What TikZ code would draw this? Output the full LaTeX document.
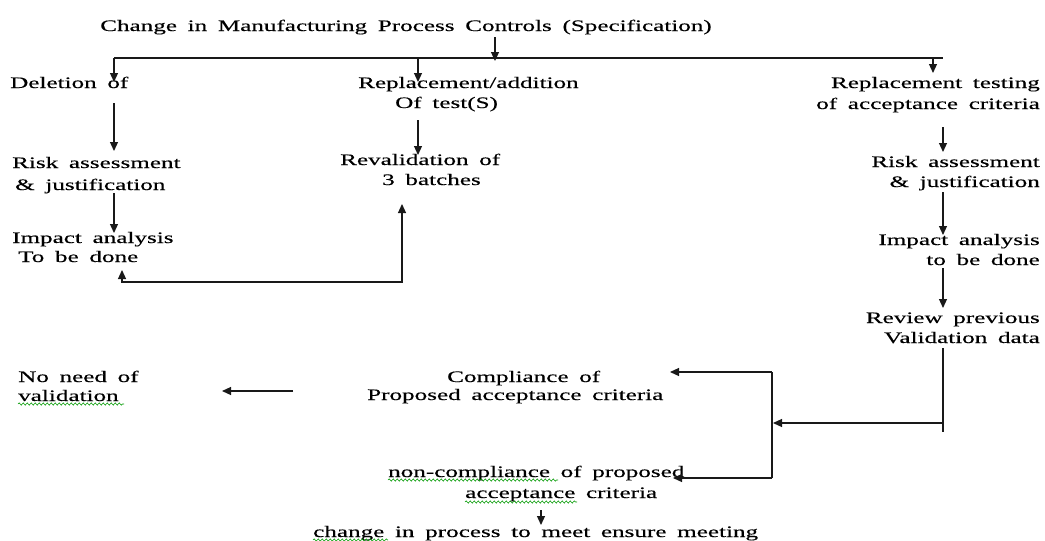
\documentclass[tikz,border=0pt]{standalone}
\usepackage{fontspec}
\setmainfont{Liberation Serif}[FakeStretch=1.57,WordSpace=1.7,FakeBold=0.3]
\usetikzlibrary{arrows.meta,calc,decorations.pathmorphing}
\begin{document}
\begin{tikzpicture}[x=1pt,y=-1pt,
  lbl/.style={inner sep=0pt,font=\fontsize{16}{20}\selectfont},
  conn/.style={line width=1.2pt,draw=black!90},
  arr/.style={conn,-{Triangle[length=9pt,width=8pt]}},
  biarr/.style={conn,{Triangle[length=9pt,width=8pt]}-{Triangle[length=9pt,width=8pt]}},
  spell/.style={draw=green!60!black,line width=0.6pt,decorate,
    decoration={snake,amplitude=1.1pt,segment length=4pt}}]

\useasboundingbox (0,0) rectangle (1045,541);

% column positions of the vertical connectors
\coordinate (cH) at (495,0);
\coordinate (cL) at (114,0);
\coordinate (cM) at (418,0);
\coordinate (cR) at (943,0);
\coordinate (cT) at (933,0);
\coordinate (cS) at (772,0);
\coordinate (bus) at (0,58);

% texts
\node[lbl,anchor=base] (head) at (406,31) {Change in Manufacturing Process Controls (Specification)};

\node[lbl,anchor=base west] (del)  at (10,88)  {Deletion of};
\node[lbl,anchor=base west] (rep1) at (358,88) {Replacement/addition};
\node[lbl,anchor=base west] (rep2) at (395,108) {Of test(S)};
\node[lbl,anchor=base east] (rt1)  at (1040,88)  {Replacement testing};
\node[lbl,anchor=base east] (rt2)  at (1040,109) {of acceptance criteria};

\node[lbl,anchor=base west] (rl1) at (12,168) {Risk assessment};
\node[lbl,anchor=base west] (rl2) at (15,190) {\& justification};
\node[lbl,anchor=base west] (rv1) at (340,165) {Revalidation of};
\node[lbl,anchor=base west] (rv2) at (382,185) {3 batches};
\node[lbl,anchor=base east] (rr1) at (1040,167) {Risk assessment};
\node[lbl,anchor=base east] (rr2) at (1040,187) {\& justification};

\node[lbl,anchor=base west] (il1) at (12,243) {Impact analysis};
\node[lbl,anchor=base west] (il2) at (18,262) {To be done};
\node[lbl,anchor=base east] (ir1) at (1040,245) {Impact analysis};
\node[lbl,anchor=base east] (ir2) at (1040,265) {to be done};

\node[lbl,anchor=base east] (vr1) at (1040,323) {Review previous};
\node[lbl,anchor=base east] (vr2) at (1040,343) {Validation data};

\node[lbl,anchor=base west] (no1) at (18,382) {No need of};
\node[lbl,anchor=base west] (no2) at (18,401) {validation};
\node[lbl,anchor=base west] (cp1) at (447,382) {Compliance of};
\node[lbl,anchor=base west] (cp2) at (367,400) {Proposed acceptance criteria};
\node[lbl,anchor=base west] (nc1) at (388,477) {non-compliance of proposed};
\node[lbl,anchor=base west] (nc2) at (465,498) {acceptance criteria};
\node[lbl,anchor=base west] (chg) at (313,537) {change in process to meet ensure meeting};

% spelling marks under some words
\draw[spell] ($(no2.base west)+(0,3)$) -- ++(106,0);
\draw[spell] ($(nc1.base west)+(0,3)$) -- ++(170,0);
\draw[spell] ($(nc2.base west)+(0,4)$) -- ++(112,0);
\draw[spell] ($(chg.base west)+(0,3)$) -- ++(75,0);

% top distribution
\draw[arr] ($(cH |- head.base)+(0,6)$) -- ($(cH |- bus)+(0,3)$);
\draw[conn] (cL |- bus) -- (cR |- bus);
\draw[arr] (cL |- bus) -- ($(cL |- del.base)+(0,-6)$);
\draw[arr] (cM |- bus) -- ($(cM |- rep1.base)+(0,-6)$);
\draw[arr] (cT |- bus) -- ($(cT |- rt1.base)+(0,-15)$);

% left column
\draw[arr] ($(cL |- del.base)+(0,15)$) -- ($(cL |- rl1.base)+(0,-17)$);
\draw[arr] ($(cL |- rl2.base)+(0,3)$) -- ($(cL |- il1.base)+(0,-10)$);

% middle column
\draw[arr] ($(cM |- rep2.base)+(0,12)$) -- ($(cM |- rv1.base)+(0,-10)$);

% loop between the left and middle columns
\draw[biarr] ($(il2.base -| 122,0)+(0,8)$) -- (122,282) -- (402,282)
  -- ($(rv2.base -| 402,0)+(0,19)$);

% right column
\draw[arr] ($(cR |- rt2.base)+(0,18)$) -- ($(cR |- rr1.base)+(0,-15)$);
\draw[arr] ($(cR |- rr2.base)+(0,5)$) -- ($(cR |- ir1.base)+(0,-10)$);
\draw[arr] ($(cR |- ir2.base)+(0,3)$) -- ($(cR |- vr1.base)+(0,-15)$);

% decision split
\draw[conn] ($(cR |- vr2.base)+(0,5)$) -- (cR |- 0,432);
\draw[arr] (cR |- 0,423) -- (773,423);
\draw[conn] (cS |- 0,372) -- (cS |- 0,478);
\draw[arr] (cS |- 0,372) -- (670,372);
\draw[arr] (cS |- 0,478) -- (673,478);

% compliance and non-compliance outcomes
\draw[arr] ($(cp2.base west)+(-74,-9)$) -- ($(no2.base west)+(204,-10)$);
\draw[arr] ($(nc2.base west)+(76,12)$) -- ($(nc2.base west)+(76,27)$);

\end{tikzpicture}
\end{document}
